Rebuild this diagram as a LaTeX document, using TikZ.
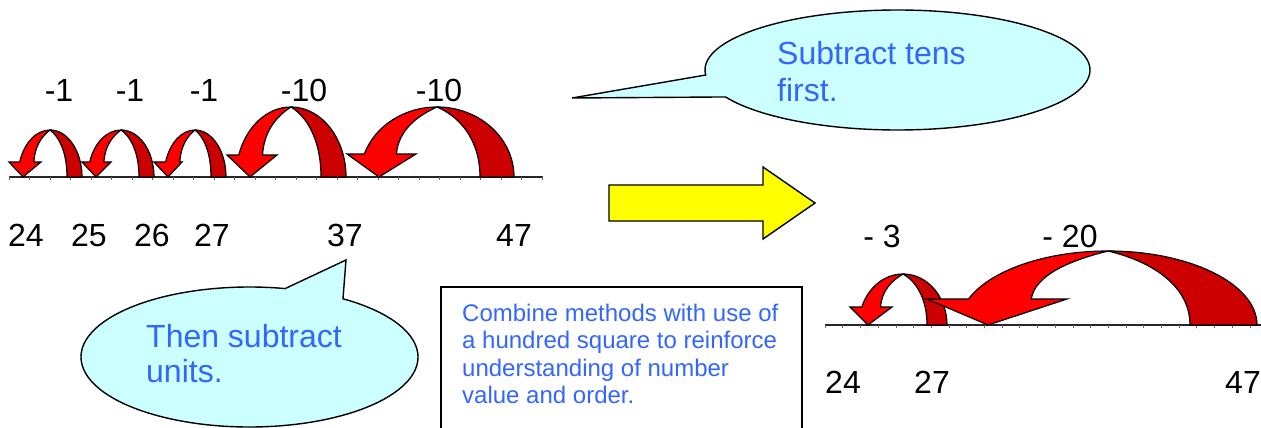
\documentclass[tikz,border=0pt]{standalone}
\usepackage{fontspec}
\setmainfont{Liberation Sans}
\definecolor{bubblefill}{RGB}{204,255,255}
\definecolor{txtblue}{RGB}{51,102,255}
\definecolor{brightred}{RGB}{255,0,0}
\definecolor{darkred}{RGB}{204,0,0}
\definecolor{arrowyellow}{RGB}{255,255,0}
\tikzset{
  lab/.style={font=\fontsize{32}{37}\selectfont, inner sep=0pt},
  bluetxt/.style={font=\fontsize{32}{37}\selectfont, text=txtblue, inner sep=0pt, anchor=base west},
  boxtxt/.style={font=\fontsize{24}{27}\selectfont, text=txtblue, inner sep=0pt, anchor=base west},
  darkpart/.style={fill=darkred, draw=black, line width=1.2pt, line join=round},
  brightpart/.style={fill=brightred, draw=black, line width=1.2pt, line join=miter},
  numline/.style={draw=black!85, line width=1.3pt},
  tickmark/.style={draw=black!60, line width=0.6pt},
  bubble/.style={fill=bubblefill, draw=black, line width=1.4pt, line join=miter},
  bigarrow/.style={fill=arrowyellow, draw=black, line width=1.4pt, line join=miter},
  notebox/.style={draw=black, line width=1.6pt}
}
\begin{document}
\begin{tikzpicture}[x=1pt,y=-1pt]
\useasboundingbox (0,0) rectangle (1261,428);
\clip (0,0) rectangle (1261,428);

% number lines
\draw[numline] (9,177) -- (543,177);
\foreach \k in {0,...,26} \draw[tickmark] (9+20.5*\k,177) -- ++(0,3);
\draw[numline] (825,325) -- (1261,325);
\foreach \k in {0,...,24} \draw[tickmark] (825+17.7*\k,325) -- ++(0,3);

% curved arrows
\foreach \bs/\cx/\ty/\tin/\tout/\wy/\wL/\wR/\tx in {
  177/50/130/67/82/162/9/41/23,
  177/121/130/139/154/162/82/111/96,
  177/195/130/211/226/162/154/182/168,
  177/291/107/321/346/155/227/277/250,
  177/437/107/480/514/154/347/416/379,
  325/903/274/927/947/307/850/892/868,
  325/1108/251/1190/1257/299/927/1067/988}{
  \pgfmathsetmacro\hh{\bs-\ty}
  \pgfmathsetmacro\rO{\tout-\cx}
  \pgfmathsetmacro\rI{\tin-\cx}
  \pgfmathsetmacro\phang{asin((\bs-\wy)/\hh)}
  \pgfmathsetmacro\nR{\cx-\rI*cos(\phang)}
  \pgfmathsetmacro\dA{\tin}
  \pgfmathsetmacro\dB{\bs-0.55*\hh}
  \pgfmathsetmacro\dC{\cx+0.5*\rI}
  \pgfmathsetmacro\dD{\ty+0.13*\hh}
  \pgfmathsetmacro\bA{\nR+0.05*(\cx-\nR)}
  \pgfmathsetmacro\bB{\wy-0.5*(\wy-\ty)}
  \pgfmathsetmacro\bC{\cx-0.5*(\cx-\nR)}
  \pgfmathsetmacro\bD{\ty+0.13*\hh}
  \draw[darkpart] (\tout,\bs) arc[start angle=0,end angle=-90,x radius=\rO,y radius=\hh]
     .. controls (\dC,\dD) and (\dA,\dB) .. (\tin,\bs) -- cycle;
  \draw[brightpart] (\cx,\ty) arc[start angle=-90,end angle=-180+\phang,x radius=\rO,y radius=\hh]
     -- (\wL,\wy) -- (\tx,\bs) -- (\wR,\wy) -- (\nR,\wy)
     .. controls (\bA,\bB) and (\bC,\bD) .. (\cx,\ty) -- cycle;
}

% jump labels
\node[lab] (m1a) at (59,90) {-1};
\node[lab] (m1b) at (130,90) {-1};
\node[lab] (m1c) at (204,90) {-1};
\node[lab] (m10a) at (304,90) {-10};
\node[lab] (m10b) at (439,90) {-10};
\node[lab] (m3) at (882,236) {- 3};
\node[lab] (m20) at (1070,236) {- 20};

% number labels
\node[lab] (n24) at (26,235) {24};
\node[lab] (n25) at (89,235) {25};
\node[lab] (n26) at (152,235) {26};
\node[lab] (n27) at (212,235) {27};
\node[lab] (n37) at (345,235) {37};
\node[lab] (n47) at (514,235) {47};
\node[lab] (r24) at (843,382) {24};
\node[lab] (r27) at (932,382) {27};
\node[lab] (r47) at (1243,382) {47};

% yellow arrow
\draw[bigarrow] (609,185) -- (763,185) -- (763,167) -- (815,203) -- (763,239) -- (763,221) -- (609,221) -- cycle;

% callout: subtract tens first
\draw[bubble] (897.5,70) ++(175.2:192.5 and 60)
   arc[start angle=175.2,end angle=513.3,x radius=192.5,y radius=60] -- (572,98) -- cycle;
\node[bluetxt] (t1a) at (777,65) {Subtract tens};
\node[bluetxt] (t1b) at (777,102) {first.};

% callout: then subtract units
\draw[bubble] (249.5,357) ++(-56.3:168.5 and 70)
   arc[start angle=-56.3,end angle=282.2,x radius=168.5,y radius=70] -- (346,260) -- cycle;
\node[bluetxt] (t2a) at (146,347) {Then subtract};
\node[bluetxt] (t2b) at (146,382) {units.};

% note box
\draw[notebox] (441,440) -- (441,287) -- (802,287) -- (802,440);
\node[boxtxt] (b1) at (462,321) {Combine methods with use of};
\node[boxtxt] (b2) at (462,348) {a hundred square to reinforce};
\node[boxtxt] (b3) at (462,376) {understanding of number};
\node[boxtxt] (b4) at (462,403) {value and order.};
\end{tikzpicture}
\end{document}
